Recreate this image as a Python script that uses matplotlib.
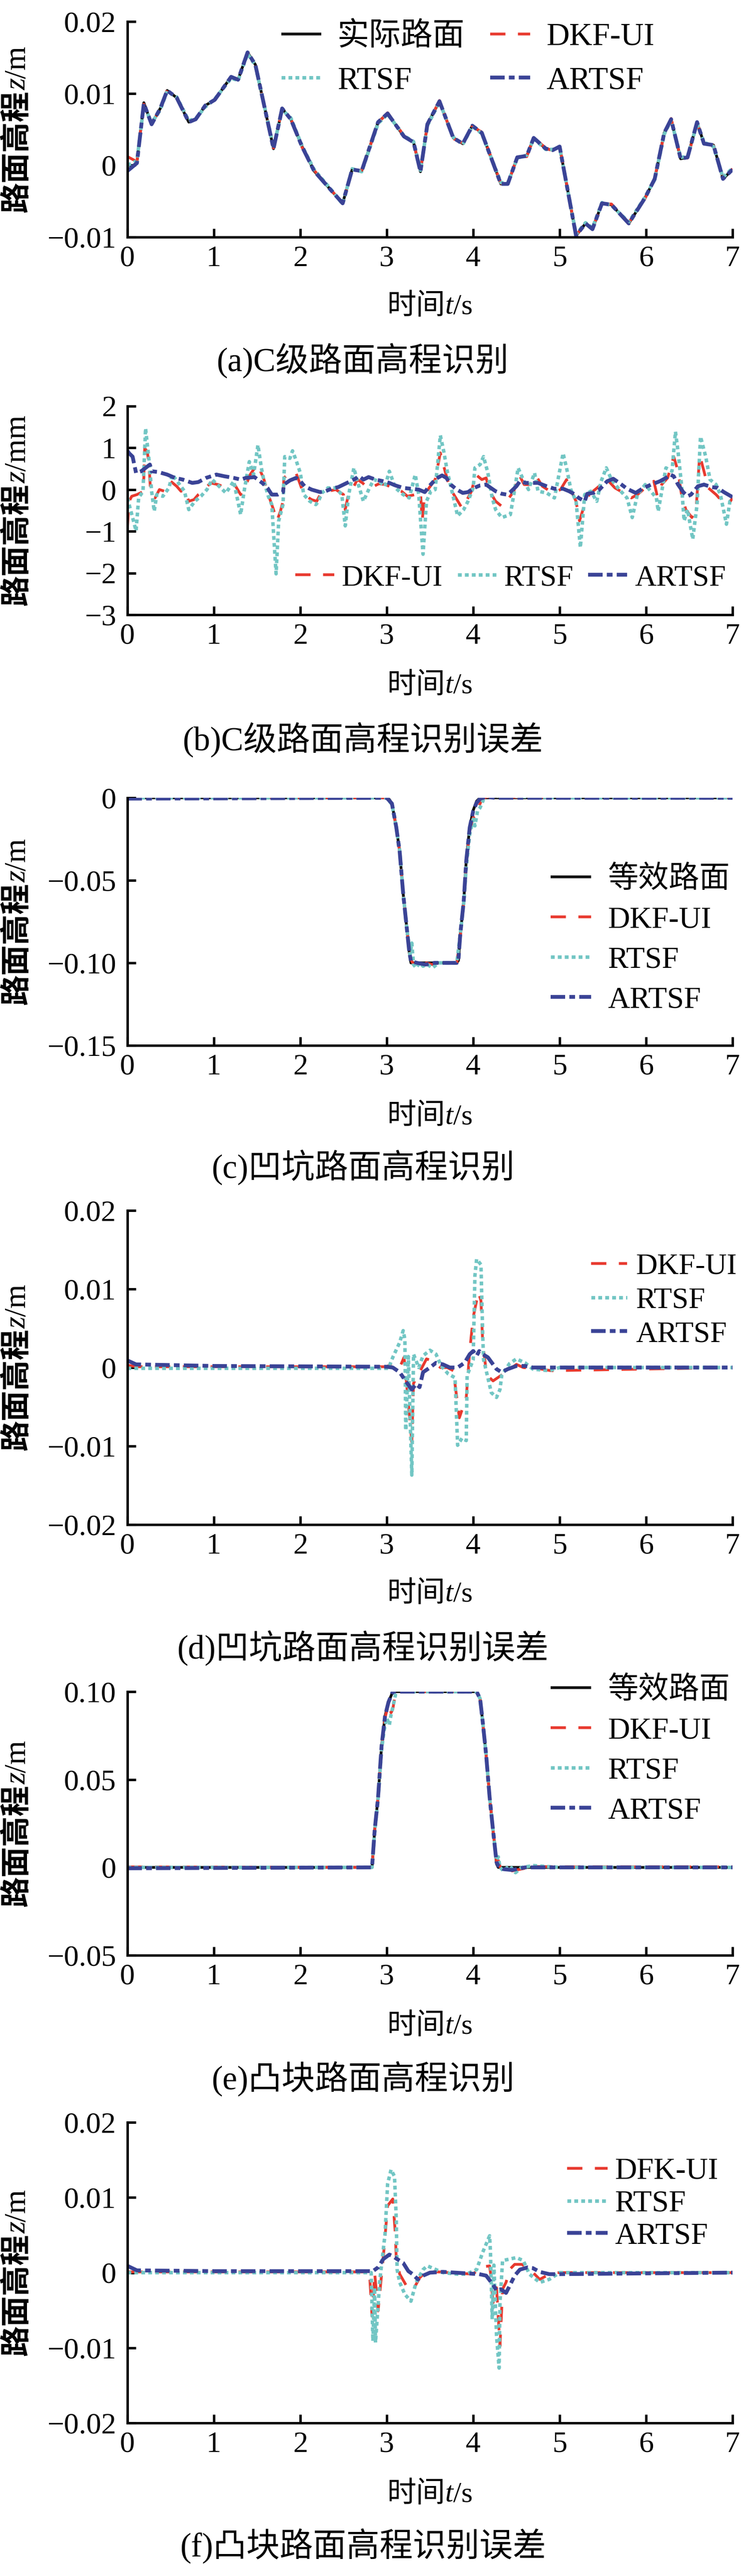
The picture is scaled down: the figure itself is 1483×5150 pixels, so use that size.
import matplotlib
matplotlib.use("Agg")
import matplotlib.pyplot as plt

plt.rcParams['font.family'] = ['Liberation Serif', 'Noto Sans CJK SC']
plt.rcParams['axes.unicode_minus'] = True

W, H = 1483, 5150

# ---------------- data ----------------
x_ticks = [0, 1, 2, 3, 4, 5, 6, 7]

# (a) C-class road elevation (m)
t_a = [0.00, 0.11, 0.19, 0.28, 0.38, 0.46, 0.57, 0.71, 0.79, 0.90, 1.01, 1.20, 1.28, 1.39, 1.48,
       1.69, 1.79, 1.89, 2.02, 2.16, 2.35, 2.49, 2.60, 2.71, 2.90, 3.01, 3.20, 3.31, 3.39, 3.47,
       3.61, 3.77, 3.88, 3.99, 4.10, 4.32, 4.40, 4.51, 4.62, 4.70, 4.84, 4.92, 5.00, 5.19, 5.30,
       5.38, 5.49, 5.60, 5.80, 5.99, 6.10, 6.21, 6.29, 6.40, 6.48, 6.59, 6.67, 6.78, 6.89, 7.00]
road_a = [-0.0008, 0.0004, 0.0087, 0.0057, 0.0079, 0.0104, 0.0094, 0.0060, 0.0064, 0.0083, 0.0091,
          0.0123, 0.0119, 0.0157, 0.0140, 0.0023, 0.0079, 0.0064, 0.0026, -0.0008, -0.0034, -0.0053,
          -0.0006, -0.0008, 0.0060, 0.0072, 0.0040, 0.0032, -0.0009, 0.0057, 0.0089, 0.0038, 0.0030,
          0.0055, 0.0045, -0.0026, -0.0026, 0.0011, 0.0013, 0.0038, 0.0023, 0.0021, 0.0026, -0.0098,
          -0.0081, -0.0089, -0.0053, -0.0055, -0.0081, -0.0045, -0.0019, 0.0045, 0.0064, 0.0009,
          0.0011, 0.0060, 0.0030, 0.0028, -0.0019, -0.0006]
dkf_a = [0.0012, 0.0005, 0.0085, 0.0058, 0.0078, 0.0105, 0.0093, 0.0061, 0.0064, 0.0082, 0.0091,
         0.0122, 0.0120, 0.0156, 0.0141, 0.0024, 0.0078, 0.0065, 0.0025, -0.0007, -0.0034, -0.0052,
         -0.0007, -0.0007, 0.0059, 0.0073, 0.0041, 0.0031, -0.0008, 0.0056, 0.0090, 0.0037, 0.0031,
         0.0054, 0.0046, -0.0025, -0.0027, 0.0012, 0.0012, 0.0038, 0.0024, 0.0020, 0.0027, -0.0097,
         -0.0082, -0.0088, -0.0054, -0.0054, -0.0080, -0.0046, -0.0018, 0.0044, 0.0065, 0.0010,
         0.0010, 0.0059, 0.0031, 0.0027, -0.0018, -0.0005]
rtsf_a = [0.0000, 0.0006, 0.0084, 0.0059, 0.0077, 0.0103, 0.0095, 0.0062, 0.0065, 0.0081, 0.0092,
          0.0121, 0.0118, 0.0155, 0.0139, 0.0025, 0.0077, 0.0066, 0.0027, -0.0006, -0.0033, -0.0054,
          -0.0005, -0.0009, 0.0058, 0.0071, 0.0041, 0.0033, -0.0007, 0.0055, 0.0088, 0.0039, 0.0029,
          0.0054, 0.0044, -0.0024, -0.0025, 0.0010, 0.0014, 0.0037, 0.0022, 0.0022, 0.0025, -0.0096,
          -0.0080, -0.0087, -0.0052, -0.0056, -0.0079, -0.0044, -0.0020, 0.0043, 0.0063, 0.0011,
          0.0012, 0.0058, 0.0032, 0.0026, -0.0017, -0.0004]
artsf_a = [-0.0008, 0.0003, 0.0086, 0.0057, 0.0079, 0.0104, 0.0094, 0.0060, 0.0064, 0.0083, 0.0091,
           0.0123, 0.0119, 0.0157, 0.0140, 0.0023, 0.0079, 0.0064, 0.0026, -0.0008, -0.0034, -0.0053,
           -0.0006, -0.0008, 0.0060, 0.0072, 0.0040, 0.0032, -0.0009, 0.0057, 0.0089, 0.0038, 0.0030,
           0.0055, 0.0045, -0.0026, -0.0026, 0.0011, 0.0013, 0.0038, 0.0023, 0.0021, 0.0026, -0.0098,
           -0.0081, -0.0089, -0.0053, -0.0055, -0.0081, -0.0045, -0.0019, 0.0045, 0.0064, 0.0009,
           0.0011, 0.0060, 0.0030, 0.0028, -0.0019, -0.0006]

# (b) C-class identification error (mm)
t_dkf_b = [0.00, 0.02, 0.05, 0.11, 0.17, 0.19, 0.20, 0.23, 0.25, 0.27, 0.32, 0.37, 0.43, 0.50, 0.57,
           0.62, 0.66, 0.71, 0.77, 0.82, 0.89, 0.96, 1.05, 1.14, 1.24, 1.31, 1.35, 1.42, 1.50, 1.54,
           1.58, 1.63, 1.69, 1.73, 1.77, 1.80, 1.81, 1.88, 1.95, 2.00, 2.04, 2.13, 2.19, 2.23, 2.32,
           2.41, 2.50, 2.52, 2.56, 2.62, 2.66, 2.72, 2.78, 2.85, 2.91, 2.98, 3.08, 3.17, 3.24, 3.33,
           3.39, 3.41, 3.44, 3.49, 3.56, 3.62, 3.66, 3.68, 3.73, 3.80, 3.87, 3.91, 3.98, 4.03, 4.10,
           4.15, 4.19, 4.26, 4.33, 4.40, 4.47, 4.53, 4.59, 4.66, 4.73, 4.80, 4.92, 5.01, 5.08, 5.12,
           5.19, 5.23, 5.27, 5.32, 5.34, 5.41, 5.48, 5.55, 5.64, 5.74, 5.83, 5.90, 5.99, 6.09, 6.13,
           6.18, 6.25, 6.32, 6.37, 6.41, 6.46, 6.53, 6.58, 6.62, 6.67, 6.72, 6.81, 6.88, 6.95, 7.00]
dkf_b = [-0.91, -0.28, -0.16, -0.12, -0.06, 0.28, 0.99, 0.91, 0.60, -0.12, -0.20, 0.00, -0.04, 0.20,
         0.08, -0.04, 0.00, -0.28, -0.24, -0.12, 0.00, 0.16, 0.12, 0.04, 0.12, -0.12, 0.00, 0.36, 0.60,
         0.44, 0.24, -0.12, -0.48, -0.75, -0.52, -0.28, 0.28, 0.40, 0.40, 0.12, -0.12, -0.24, -0.28,
         -0.12, -0.04, 0.00, -0.12, -0.48, -0.08, 0.08, 0.24, 0.16, 0.04, 0.08, 0.14, 0.12, 0.04, -0.04,
         -0.16, -0.12, -0.04, -0.75, -0.12, 0.04, 0.24, 0.88, 0.56, 0.40, 0.04, -0.20, -0.44, -0.32,
         -0.04, 0.36, 0.24, 0.28, -0.04, -0.28, -0.40, -0.24, -0.04, 0.36, 0.12, 0.12, 0.32, 0.08,
         -0.08, 0.00, 0.24, 0.04, -0.28, -0.75, -0.48, -0.28, -0.12, 0.00, 0.12, 0.24, 0.04, -0.08,
         -0.20, -0.12, 0.04, 0.20, -0.16, 0.12, 0.28, 0.79, 0.44, -0.12, -0.48, -0.67, -0.44, 0.83,
         0.44, 0.04, -0.12, -0.28, -0.36, -0.20]
t_rtsf_b = [0.00, 0.02, 0.06, 0.10, 0.13, 0.18, 0.21, 0.25, 0.28, 0.31, 0.34, 0.41, 0.48, 0.52, 0.59,
            0.66, 0.71, 0.78, 0.85, 0.92, 0.98, 1.08, 1.14, 1.23, 1.31, 1.35, 1.41, 1.46, 1.51, 1.55,
            1.58, 1.63, 1.67, 1.72, 1.75, 1.80, 1.82, 1.88, 1.91, 1.95, 2.00, 2.04, 2.11, 2.18, 2.21,
            2.25, 2.32, 2.41, 2.48, 2.52, 2.56, 2.62, 2.66, 2.73, 2.80, 2.85, 2.91, 2.98, 3.03, 3.10,
            3.19, 3.26, 3.33, 3.37, 3.42, 3.46, 3.51, 3.56, 3.62, 3.66, 3.70, 3.75, 3.82, 3.89, 3.94,
            4.00, 4.02, 4.08, 4.12, 4.17, 4.22, 4.26, 4.33, 4.43, 4.47, 4.52, 4.57, 4.64, 4.71, 4.75,
            4.85, 4.94, 5.04, 5.08, 5.13, 5.19, 5.24, 5.29, 5.36, 5.43, 5.48, 5.54, 5.60, 5.69, 5.78,
            5.84, 5.90, 5.99, 6.12, 6.14, 6.23, 6.30, 6.34, 6.37, 6.41, 6.44, 6.48, 6.54, 6.59, 6.63,
            6.69, 6.74, 6.81, 6.86, 6.93, 6.97, 7.00]
rtsf_b = [-0.20, -0.36, -0.67, -0.99, -0.20, -0.04, 1.47, 0.71, -0.04, -0.52, -0.12, -0.16, 0.04, 0.36,
          0.16, -0.04, -0.48, -0.28, -0.16, 0.00, 0.24, 0.04, -0.08, 0.20, -0.60, -0.04, 0.67, 0.36,
          1.07, 0.52, 0.20, -0.16, -0.36, -2.02, -0.75, -0.36, 0.79, 0.75, 0.93, 0.71, 0.40, -0.12,
          -0.28, -0.36, -0.28, -0.08, 0.04, 0.04, -0.12, -0.87, -0.12, 0.52, 0.20, -0.28, 0.04, 0.24,
          0.20, 0.08, 0.44, 0.04, -0.12, -0.20, 0.36, -0.12, -1.55, -0.28, -0.04, 0.00, 1.30, 0.91,
          0.44, 0.00, -0.63, -0.48, -0.28, 0.04, 0.52, 0.60, 0.79, 0.40, -0.20, -0.48, -0.67, -0.60,
          -0.12, 0.52, 0.28, 0.00, 0.40, -0.04, -0.08, -0.20, 0.87, 0.52, 0.00, -0.28, -1.39, -0.12,
          -0.04, -0.28, 0.20, 0.52, 0.24, 0.00, -0.20, -0.67, -0.12, 0.12, -0.20, -0.52, 0.52, 0.44,
          1.39, 0.91, 0.12, -0.75, -0.48, -1.19, -0.36, 1.27, 0.79, 0.24, 0.12, -0.12, -0.83, -0.28,
          -0.24]
t_artsf_b = [0.00, 0.02, 0.06, 0.10, 0.16, 0.21, 0.26, 0.28, 0.36, 0.46, 0.55, 0.64, 0.75, 0.82, 0.91,
             1.03, 1.12, 1.23, 1.31, 1.37, 1.47, 1.56, 1.62, 1.67, 1.74, 1.80, 1.81, 1.88, 1.95, 2.00,
             2.05, 2.13, 2.23, 2.29, 2.36, 2.44, 2.52, 2.62, 2.68, 2.73, 2.79, 2.87, 2.96, 3.03, 3.10,
             3.19, 3.28, 3.37, 3.44, 3.50, 3.57, 3.64, 3.69, 3.74, 3.81, 3.88, 3.94, 4.01, 4.08, 4.15,
             4.19, 4.26, 4.33, 4.39, 4.43, 4.50, 4.54, 4.61, 4.75, 4.85, 4.94, 5.04, 5.11, 5.18, 5.22,
             5.29, 5.32, 5.39, 5.46, 5.55, 5.62, 5.69, 5.78, 5.88, 5.97, 6.06, 6.16, 6.23, 6.28, 6.32,
             6.37, 6.43, 6.48, 6.52, 6.60, 6.67, 6.76, 6.83, 6.90, 7.00]
artsf_b = [0.93, 0.87, 0.79, 0.40, 0.44, 0.52, 0.60, 0.44, 0.42, 0.36, 0.28, 0.24, 0.16, 0.18, 0.28,
           0.36, 0.32, 0.28, 0.24, 0.28, 0.30, 0.16, 0.04, -0.12, -0.12, -0.06, 0.12, 0.22, 0.28, 0.20,
           0.08, 0.00, -0.06, -0.04, 0.02, 0.06, 0.14, 0.24, 0.32, 0.24, 0.30, 0.24, 0.20, 0.16, 0.10,
           0.04, 0.02, 0.00, -0.06, 0.10, 0.26, 0.34, 0.28, 0.12, 0.00, -0.08, -0.06, 0.04, 0.10, 0.12,
           0.06, -0.04, -0.10, -0.12, -0.06, 0.08, 0.20, 0.16, 0.16, 0.08, 0.02, 0.02, -0.04, -0.12,
           -0.20, -0.28, -0.10, -0.08, 0.00, 0.20, 0.26, 0.16, 0.02, -0.08, 0.04, 0.12, 0.20, 0.28,
           0.36, 0.32, 0.12, -0.06, -0.16, -0.12, 0.08, 0.12, 0.06, 0.04, -0.06, -0.18]

# (c) pothole road elevation (m)
t_road_c = [0, 3.00, 3.03, 3.06, 3.11, 3.15, 3.19, 3.23, 3.26, 3.28, 3.81, 3.83, 3.85, 3.89, 3.92,
            3.96, 4.00, 4.04, 4.08, 7.0]
road_c = [0, 0, -0.001, -0.0035, -0.0177, -0.0328, -0.058, -0.078, -0.0934, -0.1, -0.1, -0.0985,
          -0.0833, -0.063, -0.0379, -0.0177, -0.0076, -0.002, 0, 0]
t_dkf_c = [0, 3.00, 3.06, 3.11, 3.15, 3.19, 3.23, 3.26, 3.28, 3.31, 3.35, 3.40, 3.46, 3.52, 3.60,
           3.81, 3.85, 3.89, 3.92, 3.96, 4.00, 4.03, 4.06, 4.10, 4.15, 4.22, 4.30, 4.40, 5.0, 7.0]
dkf_c = [0.0005, 0, -0.0035, -0.018, -0.033, -0.058, -0.078, -0.092, -0.098, -0.101, -0.099, -0.102,
         -0.100, -0.101, -0.100, -0.100, -0.085, -0.064, -0.040, -0.020, -0.012, -0.011, -0.006,
         -0.001, 0.0005, 0.0008, 0.0, 0.0004, 0.0003, 0.0003]
t_rtsf_c = [0, 3.00, 3.06, 3.11, 3.15, 3.19, 3.23, 3.27, 3.29, 3.31, 3.34, 3.38, 3.42, 3.47, 3.53,
            3.60, 3.81, 3.85, 3.89, 3.92, 3.96, 4.00, 4.02, 4.05, 4.08, 4.12, 4.18, 4.25, 4.30, 4.40,
            5.0, 7.0]
rtsf_c = [0, 0, -0.004, -0.018, -0.032, -0.058, -0.078, -0.095, -0.088, -0.101, -0.103, -0.100,
          -0.102, -0.101, -0.103, -0.100, -0.100, -0.083, -0.064, -0.042, -0.022, -0.013, -0.017,
          -0.008, -0.006, -0.001, 0.002, 0.004, 0.0, 0.001, 0.0, 0.0]
t_artsf_c = [0, 3.00, 3.06, 3.11, 3.15, 3.19, 3.23, 3.26, 3.28, 3.35, 3.45, 3.55, 3.81, 3.83, 3.85,
             3.89, 3.92, 3.96, 4.00, 4.04, 4.08, 4.15, 4.25, 7.0]
artsf_c = [-0.0005, 0, -0.0035, -0.0177, -0.0328, -0.058, -0.078, -0.093, -0.099, -0.100, -0.101,
           -0.100, -0.100, -0.098, -0.083, -0.063, -0.038, -0.018, -0.008, -0.003, -0.0005, 0.0005,
           0.0, 0.0]

# (d) pothole identification error (m)
t_dkf_d = [0, 0.1, 3.00, 3.06, 3.15, 3.20, 3.23, 3.29, 3.31, 3.37, 3.46, 3.54, 3.62, 3.70, 3.77,
           3.84, 3.92, 3.96, 4.00, 4.06, 4.09, 4.11, 4.15, 4.19, 4.23, 4.31, 4.38, 4.50, 4.58, 4.79,
           4.90, 7.0]
dkf_d = [0.0003, 0.0001, 0.0001, 0.0005, 0.0, 0.0013, -0.0021, -0.0095, -0.002, -0.0008, 0.0011,
         0.0008, 0.0, 0.0, -0.0004, -0.0064, -0.0038, 0.0021, 0.0064, 0.0096, 0.0085, 0.0032, -0.0004,
         -0.0013, -0.0017, -0.0011, -0.0006, 0.0004, 0.0, -0.0002, -0.0004, 0.0]
t_rtsf_d = [0, 3.02, 3.07, 3.15, 3.19, 3.21, 3.22, 3.25, 3.29, 3.31, 3.37, 3.42, 3.50, 3.57, 3.63,
            3.71, 3.79, 3.82, 3.87, 3.92, 3.93, 4.00, 4.02, 4.04, 4.09, 4.11, 4.12, 4.17, 4.21, 4.27,
            4.31, 4.33, 4.42, 4.50, 4.60, 4.69, 4.88, 5.0, 7.0]
rtsf_d = [-0.0001, -0.0001, 0.0013, 0.0032, 0.0047, 0.0036, -0.008, 0.0014, -0.0137, 0.0017, 0.0,
          0.0015, 0.0022, 0.0017, 0.0002, -0.0008, -0.0013, -0.0099, -0.009, -0.0093, -0.001, 0.001,
          0.0117, 0.0138, 0.0131, 0.0043, 0.001, -0.0013, -0.0032, -0.0038, -0.0028, -0.001, 0.0005,
          0.0011, 0.0006, -0.0002, -0.0004, 0.0, 0.0]
t_artsf_d = [0, 0.1, 1.0, 3.00, 3.07, 3.15, 3.23, 3.29, 3.34, 3.38, 3.42, 3.50, 3.57, 3.65, 3.73,
             3.82, 3.90, 3.96, 4.00, 4.04, 4.07, 4.11, 4.17, 4.23, 4.27, 4.33, 4.40, 4.50, 4.60, 4.69,
             4.88, 7.0]
artsf_d = [0.0009, 0.0004, 0.0002, 0.0001, 0.0, -0.0006, -0.0019, -0.0028, -0.0021, -0.0025,
           -0.0006, 0.0, 0.0006, 0.0004, 0.0, 0.0, 0.0006, 0.0017, 0.0021, 0.0015, 0.0021, 0.0017,
           0.0013, 0.0004, -0.0002, -0.0006, -0.0002, 0.0002, 0.0002, 0.0, 0.0, 0.0]

# (e) bump road elevation (m)
t_road_e = [0, 2.83, 2.86, 2.90, 2.94, 2.98, 3.02, 3.07, 4.04, 4.08, 4.11, 4.15, 4.19, 4.23, 4.27,
            4.29, 7.0]
road_e = [0, 0, 0.021, 0.040, 0.069, 0.086, 0.094, 0.100, 0.100, 0.096, 0.083, 0.064, 0.040, 0.021,
          0.002, 0, 0]
t_dkf_e = [0, 2.83, 2.86, 2.90, 2.94, 2.98, 3.02, 3.05, 3.07, 3.09, 3.11, 3.13, 3.16, 3.25, 3.5,
           4.04, 4.08, 4.11, 4.15, 4.19, 4.23, 4.27, 4.29, 4.32, 4.38, 4.45, 4.55, 4.70, 5.0, 7.0]
dkf_e = [0.0003, 0, 0.021, 0.040, 0.068, 0.085, 0.093, 0.088, 0.090, 0.096, 0.101, 0.103, 0.101,
         0.100, 0.100, 0.100, 0.096, 0.083, 0.064, 0.040, 0.021, 0.003, 0.004, -0.001, 0.001, -0.002,
         -0.001, 0.0005, 0.0003, 0.0003]
t_rtsf_e = [0, 2.83, 2.86, 2.90, 2.94, 2.97, 3.00, 3.03, 3.05, 3.07, 3.10, 3.12, 3.14, 3.17, 3.30,
            4.04, 4.08, 4.11, 4.15, 4.19, 4.23, 4.27, 4.29, 4.31, 4.35, 4.42, 4.49, 4.56, 4.70, 5.0,
            7.0]
rtsf_e = [0, 0, 0.020, 0.039, 0.067, 0.078, 0.085, 0.081, 0.087, 0.091, 0.098, 0.104, 0.101, 0.103,
          0.100, 0.100, 0.096, 0.083, 0.064, 0.040, 0.021, 0.004, 0.006, 0.0, -0.002, 0.001, -0.003,
          0.0, 0.001, 0.0, 0.0]
t_artsf_e = [0, 2.83, 2.86, 2.90, 2.94, 2.98, 3.02, 3.07, 4.04, 4.08, 4.11, 4.15, 4.19, 4.23, 4.27,
             4.29, 4.35, 4.45, 4.60, 7.0]
artsf_e = [-0.0005, 0, 0.021, 0.040, 0.069, 0.086, 0.094, 0.100, 0.100, 0.096, 0.083, 0.064, 0.040,
           0.021, 0.003, 0.001, -0.001, -0.0015, 0.0, 0.0]

# (f) bump identification error (m)
t_dkf_f = [0, 2.80, 2.83, 2.86, 2.90, 2.97, 3.01, 3.07, 3.10, 3.11, 3.15, 3.23, 3.30, 3.38, 3.46,
           4.00, 4.08, 4.19, 4.20, 4.23, 4.27, 4.31, 4.34, 4.38, 4.42, 4.48, 4.56, 4.63, 4.71, 4.77,
           4.85, 4.96, 7.0]
dkf_f = [0.0001, 0.0001, -0.0058, 0.0, -0.0051, 0.0033, 0.0089, 0.0098, 0.0051, 0.0018, -0.0002,
         -0.0018, -0.0024, -0.0007, 0.0002, -0.0002, 0.0007, 0.0009, 0.0, -0.004, -0.002, -0.0098,
         -0.0022, -0.0013, 0.0004, 0.0011, 0.0011, 0.0007, -0.0002, -0.0009, -0.0004, 0.0, 0.0]
t_rtsf_f = [0, 2.82, 2.84, 2.86, 2.87, 2.92, 2.98, 3.01, 3.05, 3.09, 3.11, 3.12, 3.15, 3.21, 3.28,
            3.34, 3.42, 3.47, 3.57, 3.65, 3.82, 3.92, 4.04, 4.11, 4.19, 4.20, 4.22, 4.24, 4.27, 4.30,
            4.31, 4.34, 4.42, 4.50, 4.58, 4.65, 4.77, 4.88, 5.0, 7.0]
rtsf_f = [0, 0, -0.0091, -0.002, -0.0093, -0.001, 0.0051, 0.0118, 0.0137, 0.0128, 0.0072, 0.0004,
          -0.0013, -0.0029, -0.0038, -0.0013, 0.0004, 0.0009, 0.0004, 0.0, -0.0002, -0.0002, 0.0004,
          0.0027, 0.0049, 0.0027, -0.0062, 0.001, -0.0084, -0.0127, -0.004, 0.0016, 0.0018, 0.002,
          0.0016, -0.0002, -0.0013, -0.0009, 0.0, 0.0]
t_artsf_f = [0, 0.11, 1.0, 2.84, 2.90, 2.96, 3.03, 3.07, 3.12, 3.19, 3.25, 3.30, 3.36, 3.42, 3.50,
             3.65, 4.07, 4.15, 4.23, 4.27, 4.32, 4.38, 4.42, 4.48, 4.54, 4.63, 4.69, 4.77, 4.88, 5.0,
             7.0]
artsf_f = [0.0009, 0.0003, 0.0002, 0.0002, 0.0007, 0.0018, 0.0024, 0.0022, 0.0018, 0.0013, 0.0002,
           -0.0002, -0.0009, -0.0004, 0.0, 0.0001, -0.0002, -0.0004, -0.0016, -0.0024, -0.0022,
           -0.0027, -0.0018, -0.0004, 0.0004, 0.0007, 0.0006, 0.0001, -0.0002, -0.0002, 0.0]

# y ticks / labels per panel
yt_a, yl_a = [-0.01, 0, 0.01, 0.02], ['\u22120.01', '0', '0.01', '0.02']
yt_b, yl_b = [-3, -2, -1, 0, 1, 2], ['\u22123', '\u22122', '\u22121', '0', '1', '2']
yt_c, yl_c = [-0.15, -0.10, -0.05, 0], ['\u22120.15', '\u22120.10', '\u22120.05', '0']
yt_d, yl_d = [-0.02, -0.01, 0, 0.01, 0.02], ['\u22120.02', '\u22120.01', '0', '0.01', '0.02']
yt_e, yl_e = [-0.05, 0, 0.05, 0.10], ['\u22120.05', '0', '0.05', '0.10']
yt_f, yl_f = yt_d, yl_d

captions = ['(a)C级路面高程识别', '(b)C级路面高程识别误差', '(c)凹坑路面高程识别',
            '(d)凹坑路面高程识别误差', '(e)凸块路面高程识别', '(f)凸块路面高程识别误差']

# ---------------- styles ----------------
BLACK = dict(color='#111111', lw=4, solid_capstyle='butt')
RED = dict(color='#E8392E', lw=4, dashes=(5.5, 4.5))
CYAN = dict(color='#72C6C4', lw=5, dashes=(1.1, 0.9))
BLUE = dict(color='#3A4396', lw=5.5, dashes=(3.8, 1.1, 1.5, 1.1))

CJK = dict(family='Noto Sans CJK SC')
SERIF = dict(family='Liberation Serif')
ITAL = dict(family='Liberation Serif', style='italic')

fig = plt.figure(figsize=(W / 100, H / 100), dpi=100)
renderer = fig.canvas.get_renderer()


def rich_text(x, y, pieces, rotation=0, fs=42):
    # x, y in pixels from top-left; (x, y) is the baseline line, text centred along it
    objs = []
    for s, kw in pieces:
        objs.append(fig.text(0, 0, s, fontsize=fs, rotation=rotation, rotation_mode='anchor',
                             ha='left', va='baseline', **kw))
    sizes = []
    for t in objs:
        bb = t.get_window_extent(renderer)
        sizes.append(bb.width if rotation == 0 else bb.height)
    pos = -sum(sizes) / 2
    for t, s in zip(objs, sizes):
        if rotation == 0:
            t.set_position(((x + pos) / W, 1 - y / H))
        else:
            t.set_position((x / W, 1 - (y - pos) / H))
        pos += s


def make_ax(top, bottom):
    ax = fig.add_axes([255 / W, 1 - bottom / H, 1211 / W, (bottom - top) / H])
    for s in ['top', 'right']:
        ax.spines[s].set_visible(False)
    for s in ['left', 'bottom']:
        ax.spines[s].set_linewidth(3.5)
    ax.tick_params(direction='in', length=12, width=3.5, labelsize=43)
    ax.tick_params(axis='y', pad=16)
    ax.tick_params(axis='x', pad=12)
    ax.set_xlim(0, 7)
    ax.set_xticks(x_ticks)
    ax.set_xticklabels([str(v) for v in x_ticks])
    return ax


def decorate(ax, yticks, ylabels, unit, xlab_y, cap_y, caption):
    ax.set_ylim(yticks[0], yticks[-1])
    ax.set_yticks(yticks)
    ax.set_yticklabels(ylabels)
    pos = ax.get_position()
    yc = (1 - pos.y0 - pos.height / 2) * H
    rich_text(51, yc, [('路面高程', dict(CJK, weight='bold')), ('z', ITAL), ('/' + unit, SERIF)],
              rotation=90, fs=44)
    rich_text(860, xlab_y + 21, [('时间', CJK), ('t', ITAL), ('/s', SERIF)], fs=42)
    fig.text(726 / W, 1 - cap_y / H, caption, ha='center', va='center', fontsize=48)


def add_legend(ax, handles, labels, x, y, ncol=1, fs=44, spacing=0.1, colsp=0.6, hl=1.3, pad=0.5):
    ax.legend(handles, labels, loc='center left', bbox_to_anchor=(x / W, 1 - y / H),
              bbox_transform=fig.transFigure, frameon=False, ncol=ncol, fontsize=fs,
              handlelength=hl, handletextpad=pad, borderpad=0, borderaxespad=0,
              labelspacing=spacing, columnspacing=colsp)


# (a)
ax = make_ax(43, 474)
h0, = ax.plot(t_a, road_a, **BLACK)
h1, = ax.plot(t_a, dkf_a, **RED)
h2, = ax.plot(t_a, rtsf_a, **CYAN)
h3, = ax.plot(t_a, artsf_a, **BLUE)
decorate(ax, yt_a, yl_a, 'm', 607, 721, captions[0])
add_legend(ax, [h0, h2, h1, h3], ['实际路面', 'RTSF', 'DKF-UI', 'ARTSF'], 563, 118, ncol=2, fs=46,
           spacing=0.45, colsp=0.8, hl=1.25, pad=0.5)

# (b)
ax = make_ax(812, 1229)
h1, = ax.plot(t_dkf_b, dkf_b, **RED)
h2, = ax.plot(t_rtsf_b, rtsf_b, **CYAN)
h3, = ax.plot(t_artsf_b, artsf_b, **BLUE)
decorate(ax, yt_b, yl_b, 'mm', 1365, 1479, captions[1])
add_legend(ax, [h1, h2, h3], ['DKF-UI', 'RTSF', 'ARTSF'], 591, 1156, ncol=3, fs=43, colsp=0.5,
           pad=0.25)

# (c)
ax = make_ax(1595, 2090)
h0, = ax.plot(t_road_c, road_c, **BLACK)
h1, = ax.plot(t_dkf_c, dkf_c, **RED)
h2, = ax.plot(t_rtsf_c, rtsf_c, **CYAN)
h3, = ax.plot(t_artsf_c, artsf_c, **BLUE)
decorate(ax, yt_c, yl_c, 'm', 2226, 2334, captions[2])
add_legend(ax, [h0, h1, h2, h3], ['等效路面', 'DKF-UI', 'RTSF', 'ARTSF'], 1102, 1879, spacing=0.4,
           hl=1.33, pad=0.54)

# (d)
ax = make_ax(2420, 3048)
h1, = ax.plot(t_dkf_d, dkf_d, **RED)
h2, = ax.plot(t_rtsf_d, rtsf_d, **CYAN)
h3, = ax.plot(t_artsf_d, artsf_d, **BLUE)
decorate(ax, yt_d, yl_d, 'm', 3181, 3295, captions[3])
add_legend(ax, [h1, h2, h3], ['DKF-UI', 'RTSF', 'ARTSF'], 1183, 2600, fs=43, spacing=0.22,
           hl=1.2, pad=0.3)

# (e)
ax = make_ax(3382, 3909)
h0, = ax.plot(t_road_e, road_e, **BLACK)
h1, = ax.plot(t_dkf_e, dkf_e, **RED)
h2, = ax.plot(t_rtsf_e, rtsf_e, **CYAN)
h3, = ax.plot(t_artsf_e, artsf_e, **BLUE)
decorate(ax, yt_e, yl_e, 'm', 4045, 4156, captions[4])
add_legend(ax, [h0, h1, h2, h3], ['等效路面', 'DKF-UI', 'RTSF', 'ARTSF'], 1102, 3500, spacing=0.4,
           hl=1.33, pad=0.54)

# (f)
ax = make_ax(4243, 4844)
h1, = ax.plot(t_dkf_f, dkf_f, **RED)
h2, = ax.plot(t_rtsf_f, rtsf_f, **CYAN)
h3, = ax.plot(t_artsf_f, artsf_f, **BLUE)
decorate(ax, yt_f, yl_f, 'm', 4981, 5090, captions[5])
add_legend(ax, [h1, h2, h3], ['DFK-UI', 'RTSF', 'ARTSF'], 1135, 4406, spacing=0.15, hl=1.33,
           pad=0.23)

fig.savefig('out.png', dpi=100)
